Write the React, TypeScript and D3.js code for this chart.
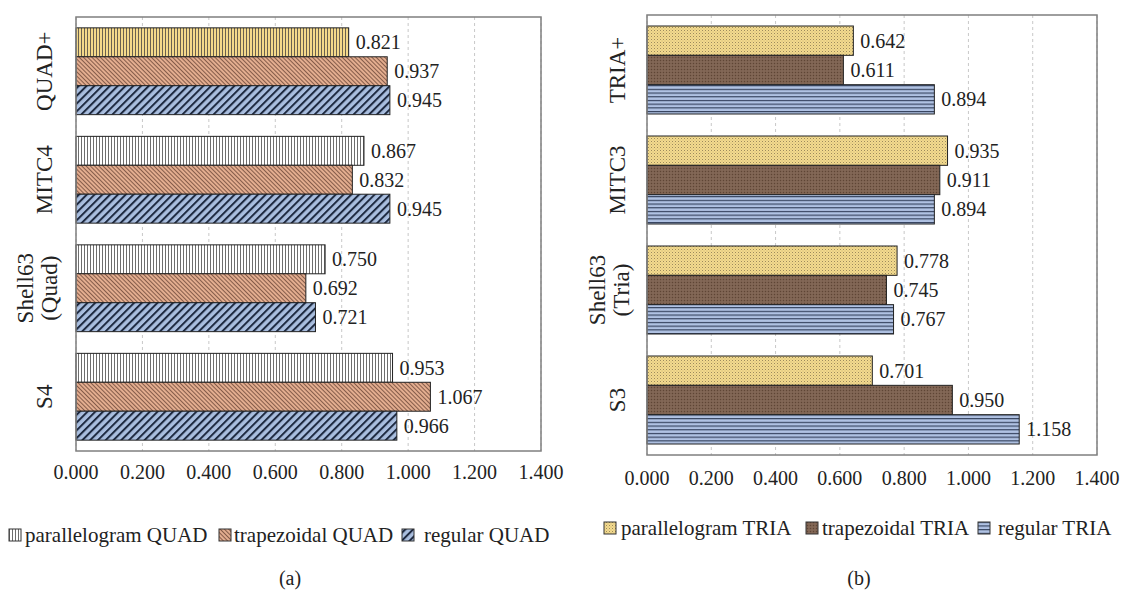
import React from "react";
import * as d3 from "d3";

const quadCategories = ["QUAD+", "MITC4", "Shell63|(Quad)", "S4"];
const quadSeries = ["parallelogram QUAD", "trapezoidal QUAD", "regular QUAD"];
const quadParallelogram = [0.821, 0.867, 0.75, 0.953];
const quadTrapezoidal = [0.937, 0.832, 0.692, 1.067];
const quadRegular = [0.945, 0.945, 0.721, 0.966];

const triaCategories = ["TRIA+", "MITC3", "Shell63|(Tria)", "S3"];
const triaSeries = ["parallelogram TRIA", "trapezoidal TRIA", "regular TRIA"];
const triaParallelogram = [0.642, 0.935, 0.778, 0.701];
const triaTrapezoidal = [0.611, 0.911, 0.745, 0.95];
const triaRegular = [0.894, 0.894, 0.767, 1.158];

const xTicks = [0, 0.2, 0.4, 0.6, 0.8, 1.0, 1.2, 1.4];

const FONT = "'Liberation Serif', 'Times New Roman', serif";

type PanelProps = {
  categories: string[];
  series: string[];
  values: number[][];
  fills: (catIdx: number, sIdx: number) => string;
  legendFills: string[];
  x0: number;
  x1: number;
  y0: number;
  y1: number;
  catX1: number;
  catX2a: number;
  catX2b: number;
  tickY: number;
  legendY: number;
  legendX: number[];
  legendGap: number[];
  caption: string;
  captionX: number;
};

function Panel(p: PanelProps) {
  const x = d3.scaleLinear().domain([0, 1.4]).range([p.x0, p.x1]);
  const y = d3
    .scaleBand<string>()
    .domain(p.categories)
    .range([p.y0, p.y1])
    .paddingInner(0.2)
    .paddingOuter(0.1);
  const ys = d3
    .scaleBand<string>()
    .domain(p.series)
    .range([0, y.bandwidth()]);
  const catText = (key: string, cx: number, cy: number, label: string) => (
    <text
      key={key}
      transform={`translate(${cx},${cy}) rotate(-90)`}
      textAnchor="middle"
      dominantBaseline="central"
      fontSize={23}
      fontFamily={FONT}
      fill="#222"
    >
      {label}
    </text>
  );
  return (
    <g>
      {xTicks.map((t, i) => (
        <line
          key={"g" + i}
          x1={x(t)}
          x2={x(t)}
          y1={p.y0}
          y2={p.y1}
          stroke="#c8c8c8"
          strokeDasharray="3,3"
          strokeWidth={1}
        />
      ))}
      {p.categories.map((c, ci) =>
        p.series.map((s, si) => {
          const v = p.values[si][ci];
          const by = (y(c) as number) + (ys(s) as number);
          const bh = ys.bandwidth();
          return (
            <g key={c + s}>
              <rect
                x={x(0)}
                y={by}
                width={x(v) - x(0)}
                height={bh}
                fill={p.fills(ci, si)}
                stroke="#222"
                strokeWidth={1}
              />
              <text
                x={x(v) + 7}
                y={by + bh / 2}
                dominantBaseline="central"
                fontSize={20}
                fontFamily={FONT}
                fill="#222"
              >
                {v.toFixed(3)}
              </text>
            </g>
          );
        })
      )}
      <rect
        x={p.x0}
        y={p.y0}
        width={p.x1 - p.x0}
        height={p.y1 - p.y0}
        fill="none"
        stroke="#7f7f7f"
        strokeWidth={1.5}
      />
      {p.categories.map((c) => {
        const cy = (y(c) as number) + y.bandwidth() / 2;
        const parts = c.split("|");
        if (parts.length === 1) return catText("c" + c, p.catX1, cy, c);
        return (
          <g key={"c" + c}>
            {catText("a", p.catX2a, cy, parts[0])}
            {catText("b", p.catX2b, cy, parts[1])}
          </g>
        );
      })}
      {xTicks.map((t, i) => (
        <text
          key={"t" + i}
          x={x(t)}
          y={p.tickY}
          textAnchor="middle"
          dominantBaseline="central"
          fontSize={20}
          fontFamily={FONT}
          fill="#222"
        >
          {d3.format(".3f")(t)}
        </text>
      ))}
      {p.series.map((s, si) => (
        <g key={"l" + s}>
          <rect
            x={p.legendX[si]}
            y={p.legendY - 6}
            width={12}
            height={12}
            fill={p.legendFills[si]}
            stroke="#333"
            strokeWidth={1}
          />
          <text
            x={p.legendX[si] + p.legendGap[si]}
            y={p.legendY}
            dominantBaseline="central"
            fontSize={21}
            fontFamily={FONT}
            fill="#222"
          >
            {s}
          </text>
        </g>
      ))}
      <text
        x={p.captionX}
        y={578}
        textAnchor="middle"
        dominantBaseline="central"
        fontSize={20}
        fontFamily={FONT}
        fill="#222"
      >
        {p.caption}
      </text>
    </g>
  );
}

export default function App() {
  return (
    <svg
      width={1125}
      height={592}
      style={{ position: "absolute", left: 0, top: 0, background: "#fff" }}
    >
      <defs>
        <pattern id="pvYellow" width={3} height={6} patternUnits="userSpaceOnUse">
          <rect width={3} height={6} fill="#f4d98a" />
          <line x1={0.5} x2={0.5} y1={0} y2={6} stroke="#6a6150" strokeWidth={1} />
        </pattern>
        <pattern id="pvWhite" width={3} height={6} patternUnits="userSpaceOnUse">
          <rect width={3} height={6} fill="#ffffff" />
          <line x1={0.5} x2={0.5} y1={0} y2={6} stroke="#6e6e6e" strokeWidth={1} />
        </pattern>
        <pattern
          id="trapQuad"
          width={3}
          height={6}
          patternUnits="userSpaceOnUse"
          patternTransform="rotate(-45)"
        >
          <rect width={3} height={6} fill="#e3ad8f" />
          <line x1={0.5} x2={0.5} y1={0} y2={6} stroke="#7a5242" strokeWidth={0.9} />
        </pattern>
        <pattern
          id="regQuad"
          width={5.5}
          height={6}
          patternUnits="userSpaceOnUse"
          patternTransform="rotate(45)"
        >
          <rect width={5.5} height={6} fill="#a9bedf" />
          <line x1={1} x2={1} y1={0} y2={6} stroke="#1d2940" strokeWidth={2} />
        </pattern>
        <pattern id="parTria" width={3} height={3} patternUnits="userSpaceOnUse">
          <rect width={3} height={3} fill="#f3da8e" />
          <rect x={0} y={0} width={1} height={1} fill="#9c8a5c" />
          <rect x={1.5} y={1.5} width={1} height={1} fill="#c9b274" />
        </pattern>
        <pattern id="trapTria" width={3} height={3} patternUnits="userSpaceOnUse">
          <rect width={3} height={3} fill="#7c6150" />
          <rect x={0} y={0} width={1} height={1} fill="#5e4535" />
          <rect x={1.5} y={1.5} width={1} height={1} fill="#927868" />
        </pattern>
        <pattern id="regTria" width={6} height={3.7} patternUnits="userSpaceOnUse">
          <rect width={6} height={3.7} fill="#b0c2e3" />
          <line x1={0} x2={6} y1={0.6} y2={0.6} stroke="#2d3955" strokeWidth={1.1} />
        </pattern>
      </defs>
      <Panel
        categories={quadCategories}
        series={quadSeries}
        values={[quadParallelogram, quadTrapezoidal, quadRegular]}
        fills={(ci, si) =>
          si === 0
            ? ci === 0
              ? "url(#pvYellow)"
              : "url(#pvWhite)"
            : si === 1
            ? "url(#trapQuad)"
            : "url(#regQuad)"
        }
        legendFills={["url(#pvWhite)", "url(#trapQuad)", "url(#regQuad)"]}
        x0={76}
        x1={541}
        y0={17}
        y1={451}
        catX1={44}
        catX2a={25}
        catX2b={49}
        tickY={472}
        legendY={535}
        legendX={[9, 219, 402]}
        legendGap={[16, 15, 22]}
        caption="(a)"
        captionX={290}
      />
      <Panel
        categories={triaCategories}
        series={triaSeries}
        values={[triaParallelogram, triaTrapezoidal, triaRegular]}
        fills={(ci, si) =>
          si === 0 ? "url(#parTria)" : si === 1 ? "url(#trapTria)" : "url(#regTria)"
        }
        legendFills={["url(#parTria)", "url(#trapTria)", "url(#regTria)"]}
        x0={647}
        x1={1097}
        y0={15}
        y1={455}
        catX1={617}
        catX2a={597}
        catX2b={621}
        tickY={478}
        legendY={528}
        legendX={[604, 806, 978]}
        legendGap={[17, 16, 20]}
        caption="(b)"
        captionX={859}
      />
    </svg>
  );
}
